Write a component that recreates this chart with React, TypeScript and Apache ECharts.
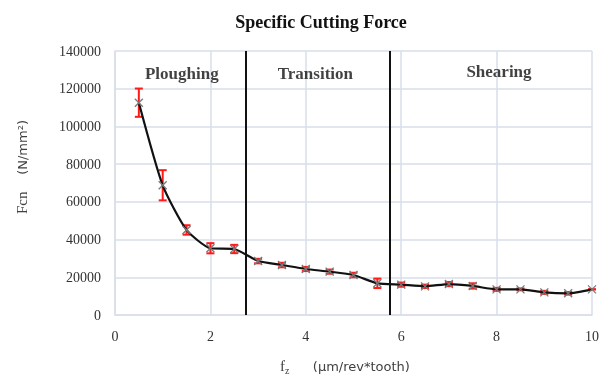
import React, { useEffect, useRef } from "react";
import * as echarts from "echarts";

const feedRates = [0.5, 1, 1.5, 2, 2.5, 3, 3.5, 4, 4.5, 5, 5.5, 6, 6.5, 7, 7.5, 8, 8.5, 9, 9.5, 10];
const meanForce = [112600, 68800, 45100, 35400, 35000, 28600, 26500, 24400, 23000, 21200, 16800, 16100, 15200, 16400, 15400, 13600, 13600, 12000, 11500, 13600];
const errForce = [7500, 8000, 2500, 2700, 2200, 1200, 1200, 1100, 1100, 1200, 2500, 1100, 900, 1100, 1400, 800, 500, 800, 700, 0];
const phaseBoundaries = [2.75, 5.77];
const phaseNames = ["Ploughing", "Transition", "Shearing"];
const phaseLabelX = [1.4, 4.2, 8.05];
const phaseLabelY = [128300, 128300, 129000];
const yTicks = { min: 0, max: 140000, interval: 20000 };
const xTicks = { min: 0, max: 10, interval: 2 };

const SERIF = "Liberation Serif";
const SANS = "DejaVu Sans";
const GRID = "#d9dee8";

export default function App() {
  const ref = useRef<HTMLDivElement>(null);
  useEffect(() => {
    if (!ref.current) return;
    const chart = echarts.init(ref.current, undefined, { renderer: "svg" });
    const errData = feedRates.map((x, i) => [x, meanForce[i] - errForce[i], meanForce[i] + errForce[i], meanForce[i]]);
    const crossData = feedRates.map((x, i) => [x, meanForce[i]]);
    chart.setOption({
      animation: false,
      title: {
        text: "Specific Cutting Force",
        left: 316,
        top: 8,
        textAlign: "center",
        textStyle: { fontFamily: SERIF, fontWeight: "bold", fontSize: 18, color: "#111" },
      },
      grid: { left: 115, right: 9, top: 51, bottom: 61, containLabel: false },
      xAxis: {
        type: "value",
        min: xTicks.min,
        max: xTicks.max,
        interval: xTicks.interval,
        axisLine: { show: true, lineStyle: { color: GRID, width: 1.5 } },
        axisTick: { show: false },
        splitLine: { show: true, lineStyle: { color: GRID, width: 1.5 } },
        axisLabel: { fontFamily: SERIF, fontSize: 14, color: "#333", margin: 14, formatter: (v: number) => String(v) },
      },
      yAxis: {
        type: "value",
        min: yTicks.min,
        max: yTicks.max,
        interval: yTicks.interval,
        axisLine: { show: true, lineStyle: { color: GRID, width: 1.5 } },
        axisTick: { show: false },
        splitLine: { show: true, lineStyle: { color: GRID, width: 1.5 } },
        axisLabel: { fontFamily: SERIF, fontSize: 14, color: "#333", margin: 14, formatter: (v: number) => String(v) },
      },
      graphic: [
        {
          type: "text",
          x: 22,
          y: 167,
          rotation: Math.PI / 2,
          style: {
            text: "{a|Fcn}     {b|(N/mm²)}",
            align: "center",
            verticalAlign: "middle",
            rich: {
              a: { fontFamily: SERIF, fontSize: 15, fill: "#404040" },
              b: { fontFamily: SANS, fontSize: 13, fill: "#404040" },
            },
          },
        },
        {
          type: "text",
          x: 345,
          y: 366,
          style: {
            text: "{a|f}{s|z}       {b|(µm/rev*tooth)}",
            align: "center",
            verticalAlign: "middle",
            rich: {
              a: { fontFamily: SERIF, fontSize: 15, fill: "#404040" },
              s: { fontFamily: SERIF, fontSize: 10, fill: "#404040", padding: [8, 0, 0, 0] },
              b: { fontFamily: SANS, fontSize: 13, fill: "#404040" },
            },
          },
        },
      ],
      series: [
        {
          type: "custom",
          z: 2,
          data: errData,
          renderItem: (params: any, api: any) => {
            const x = api.value(0);
            const lo = api.coord([x, api.value(1)]);
            const hi = api.coord([x, api.value(2)]);
            const w = 4;
            const style = { stroke: "#ff1a1a", lineWidth: 2 };
            return {
              type: "group",
              children: [
                { type: "line", shape: { x1: lo[0], y1: lo[1], x2: hi[0], y2: hi[1] }, style },
                { type: "line", shape: { x1: lo[0] - w, y1: lo[1], x2: lo[0] + w, y2: lo[1] }, style },
                { type: "line", shape: { x1: hi[0] - w, y1: hi[1], x2: hi[0] + w, y2: hi[1] }, style },
              ],
            };
          },
        },
        {
          type: "line",
          z: 3,
          data: crossData,
          smooth: 0.2,
          symbol: "none",
          lineStyle: { color: "#111", width: 2.2 },
          markLine: {
            silent: true,
            symbol: "none",
            label: { show: false },
            lineStyle: { color: "#111", width: 2, type: "solid" },
            data: phaseBoundaries.map((b) => ({ xAxis: b })),
          },
        },
        {
          type: "custom",
          z: 4,
          data: crossData,
          renderItem: (params: any, api: any) => {
            const c = api.coord([api.value(0), api.value(1)]);
            const s = 4;
            const style = { stroke: "#7a7a7a", lineWidth: 1.3 };
            return {
              type: "group",
              children: [
                { type: "line", shape: { x1: c[0] - s, y1: c[1] - s, x2: c[0] + s, y2: c[1] + s }, style },
                { type: "line", shape: { x1: c[0] - s, y1: c[1] + s, x2: c[0] + s, y2: c[1] - s }, style },
              ],
            };
          },
        },
        {
          type: "scatter",
          z: 5,
          symbolSize: 0,
          data: phaseNames.map((n, i) => ({ name: n, value: [phaseLabelX[i], phaseLabelY[i]] })),
          label: {
            show: true,
            position: "inside",
            formatter: (p: any) => p.name,
            fontFamily: SERIF,
            fontWeight: "bold",
            fontSize: 17,
            color: "#111",
          },
        },
      ],
    });
    return () => chart.dispose();
  }, []);
  return <div ref={ref} style={{ position: "fixed", left: 0, top: 0, width: 602, height: 376 }} />;
}
